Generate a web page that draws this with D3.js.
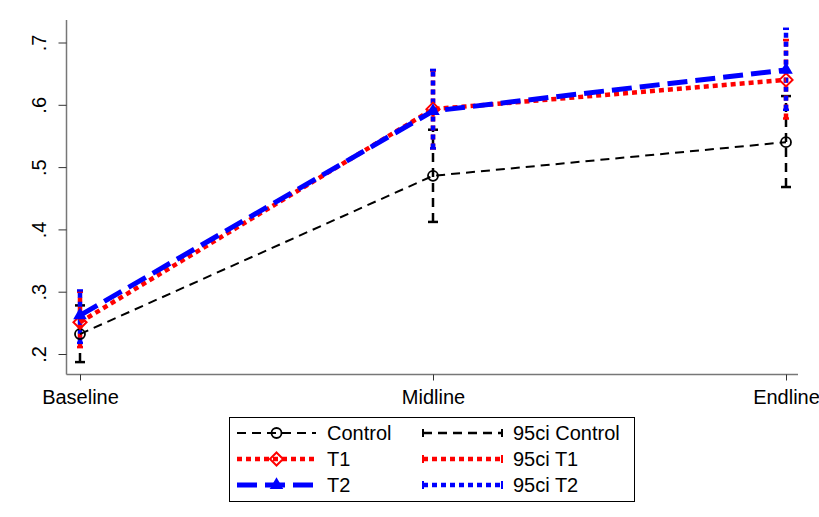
<!DOCTYPE html>
<html>
<head>
  <meta charset="utf-8">
  <script src="https://cdnjs.cloudflare.com/ajax/libs/d3/7.8.5/d3.min.js"></script>
  <style>
    body { margin: 0; background: #fff; }
    text { font-family: "Liberation Sans", Arial, sans-serif; fill: #000; }
  </style>
</head>
<body>
<script>
// rounds of the survey
const rounds = ["Baseline", "Midline", "Endline"];
const yTicks = [0.2, 0.3, 0.4, 0.5, 0.6, 0.7];
const yTickLabels = [".2", ".3", ".4", ".5", ".6", ".7"];

// group means
const control = [0.232, 0.486, 0.540];
const t1 = [0.251, 0.593, 0.640];
const t2 = [0.262, 0.590, 0.656];

// 95% confidence bounds
const controlLo = [0.187, 0.412, 0.468];
const controlHi = [0.278, 0.560, 0.614];
const t1Lo = [0.211, 0.530, 0.578];
const t1Hi = [0.300, 0.655, 0.704];
const t2Lo = [0.218, 0.530, 0.592];
const t2Hi = [0.302, 0.656, 0.722];

const W = 819, H = 517;
const svg = d3.select("body").append("svg")
    .attr("width", W)
    .attr("height", H);

const x = d3.scalePoint().domain(rounds).range([80, 786]);
const y = d3.scaleLinear().domain([0.2, 0.7]).range([354, 42.5]);

// axes
const yAxis = d3.axisLeft(y).tickValues(yTicks)
    .tickFormat((d, i) => yTickLabels[i]).tickSize(8).tickPadding(4);
const gy = svg.append("g").attr("transform", "translate(66.5,0)").call(yAxis);
gy.select(".domain").attr("d", "M0,20V374.5").attr("stroke", "#777").attr("stroke-width", 1.5);
gy.selectAll(".tick line").attr("stroke", "#333");
gy.selectAll(".tick text")
    .attr("transform", "rotate(-90)")
    .attr("x", 0).attr("y", -28).attr("dy", "0.35em")
    .style("text-anchor", "middle")
    .style("font-size", "20px");

const xAxis = d3.axisBottom(x).tickSize(6).tickPadding(6);
const gx = svg.append("g").attr("transform", "translate(0,374.5)").call(xAxis);
gx.select(".domain").attr("d", "M66.5,0H798").attr("stroke", "#777").attr("stroke-width", 1.5);
gx.selectAll(".tick line").attr("stroke", "#333");
gx.selectAll(".tick text").style("font-size", "20px").attr("dy", "0.85em");

const line = d3.line().x((d, i) => x(rounds[i])).y(d => y(d));

const series = [
  {name: "Control", vals: control, lo: controlLo, hi: controlHi, color: "#000",
   w: 2, dash: "9,6", ciW: 2.5, ciDash: "9,6", cap: 5, marker: "circle"},
  {name: "T1", vals: t1, lo: t1Lo, hi: t1Hi, color: "#ff0000",
   w: 4.5, dash: "5,4", ciW: 4.5, ciDash: "5,4", cap: 3, marker: "diamond"},
  {name: "T2", vals: t2, lo: t2Lo, hi: t2Hi, color: "#0000ff",
   w: 5, dash: "20,8", ciW: 4.5, ciDash: "5,4", cap: 3, marker: "triangle"}
];

// confidence intervals
series.forEach(s => {
  const g = svg.append("g");
  rounds.forEach((r, i) => {
    g.append("line")
      .attr("x1", x(r)).attr("x2", x(r))
      .attr("y1", y(s.lo[i])).attr("y2", y(s.hi[i]))
      .attr("stroke", s.color).attr("stroke-width", s.ciW)
      .attr("stroke-dasharray", s.ciDash);
    [s.lo[i], s.hi[i]].forEach(v => {
      g.append("line")
        .attr("x1", x(r) - s.cap).attr("x2", x(r) + s.cap)
        .attr("y1", y(v)).attr("y2", y(v))
        .attr("stroke", s.color).attr("stroke-width", 2.5);
    });
  });
});

function drawMarker(g, type, cx, cy, color) {
  if (type === "circle") {
    g.append("circle").attr("cx", cx).attr("cy", cy).attr("r", 5)
      .attr("fill", "none").attr("stroke", color).attr("stroke-width", 1.8);
  } else if (type === "diamond") {
    g.append("path").attr("d", d3.symbol(d3.symbolDiamond2, 110)())
      .attr("transform", "translate(" + cx + "," + cy + ")")
      .attr("fill", "none").attr("stroke", color).attr("stroke-width", 2);
  } else {
    g.append("path").attr("d", d3.symbol(d3.symbolTriangle, 80)())
      .attr("transform", "translate(" + cx + "," + cy + ")")
      .attr("fill", color);
  }
}

// mean lines
series.forEach(s => {
  svg.append("path").datum(s.vals)
    .attr("d", line)
    .attr("fill", "none")
    .attr("stroke", s.color)
    .attr("stroke-width", s.w)
    .attr("stroke-dasharray", s.dash);
  const g = svg.append("g");
  s.vals.forEach((v, i) => drawMarker(g, s.marker, x(rounds[i]), y(v), s.color));
});

// legend
const lg = svg.append("g");
lg.append("rect").attr("x", 229.5).attr("y", 417.5).attr("width", 405).attr("height", 84)
  .attr("fill", "#fff").attr("stroke", "#000").attr("stroke-width", 1);
series.forEach((s, i) => {
  const yy = 433 + i * 26;
  lg.append("line").attr("x1", 237).attr("x2", 316).attr("y1", yy).attr("y2", yy)
    .attr("stroke", s.color).attr("stroke-width", s.w)
    .attr("stroke-dasharray", s.dash);
  drawMarker(lg, s.marker, 276.5, yy, s.color);
  lg.append("text").attr("x", 327).attr("y", yy).attr("dy", "0.36em")
    .style("font-size", "20px").text(s.name);

  lg.append("line").attr("x1", 423).attr("x2", 502).attr("y1", yy).attr("y2", yy)
    .attr("stroke", s.color).attr("stroke-width", s.ciW)
    .attr("stroke-dasharray", s.ciDash);
  [423, 502].forEach(xx => {
    lg.append("line").attr("x1", xx).attr("x2", xx).attr("y1", yy - 4).attr("y2", yy + 4)
      .attr("stroke", s.color).attr("stroke-width", 2);
  });
  lg.append("text").attr("x", 513).attr("y", yy).attr("dy", "0.36em")
    .style("font-size", "20px").text("95ci " + s.name);
});
</script>
</body>
</html>
